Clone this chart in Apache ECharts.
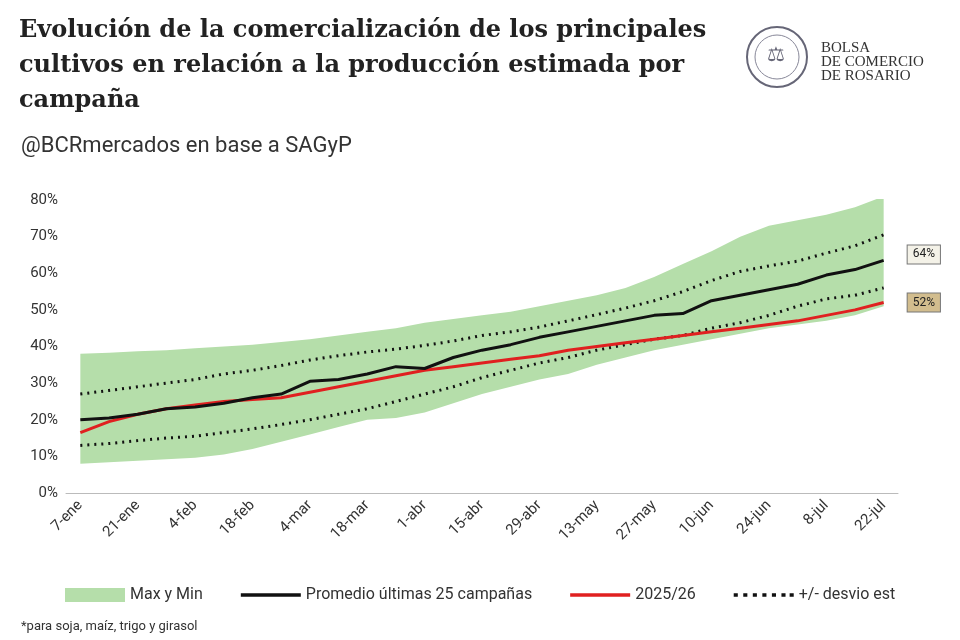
<!DOCTYPE html>
<html><head><meta charset="utf-8">
<script src="https://cdn.jsdelivr.net/npm/echarts@6/dist/echarts.min.js"></script>
<style>body{margin:0;background:#fff}#chart{width:960px;height:640px}</style>
</head><body><div id="chart"></div>
<script>
var weeks = ['7-ene','14-ene','21-ene','28-ene','4-feb','11-feb','18-feb','25-feb','4-mar','11-mar','18-mar','25-mar','1-abr','8-abr','15-abr','22-abr','29-abr','6-may','13-may','20-may','27-may','3-jun','10-jun','17-jun','24-jun','1-jul','8-jul','15-jul','22-jul'];
var bandMax = [38,38.3,38.7,39,39.5,40,40.5,41.2,42,43,44,45,46.5,47.5,48.5,49.5,51,52.5,54,56,59,62.5,66,70,73,74.5,76,78,81];
var bandMin = [8,8.4,8.8,9.2,9.6,10.5,12,14,16,18,20,20.5,22,24.5,27,29,31,32.5,35,37,39,40.5,42,43.5,45,46,47,48.5,51];
var promedio = [20,20.5,21.5,23,23.5,24.5,26,27,30.5,31,32.5,34.5,34,37,39,40.5,42.5,44,45.5,47,48.5,49,52.5,54,55.5,57,59.5,61,63.5];
var actual = [16.5,19.5,21.5,23,24,25,25.5,26,27.5,29,30.5,32,33.5,34.5,35.5,36.5,37.5,39,40,41,42,43,44,45,46,47,48.5,50,52];
var desvioSup = [27,28,29,30,31,32.5,33.5,34.8,36.3,37.5,38.5,39.3,40.3,41.5,43,44,45.3,47,48.7,50.5,52.5,55,58,60.5,62,63.3,65.5,67.5,70.5];
var desvioInf = [13,13.5,14.3,15,15.5,16.5,17.5,18.7,20,21.5,23,25,27,29,31.5,33.5,35.5,37,39,40.5,42,43,45,46.5,48.5,51,53,54,56];

var chart = echarts.init(document.getElementById('chart'));
var ff = 'Roboto, sans-serif';
chart.setOption({
  textStyle: {fontFamily: ff},
  title: [{
    text: 'Evolución de la comercialización de los principales\ncultivos en relación a la producción estimada por\ncampaña',
    left: 14, top: 8,
    textStyle: {fontFamily: 'DejaVu Serif, serif', fontSize: 24, fontWeight: 'bold', color: '#222', lineHeight: 35}
  }, {
    text: '@BCRmercados en base a SAGyP', left: 16, top: 130,
    textStyle: {fontFamily: ff, fontSize: 22, fontWeight: 'normal', color: '#333'}
  }, {
    text: 'BOLSA\nDE COMERCIO\nDE ROSARIO', left: 816, top: 36,
    textStyle: {fontFamily: 'Liberation Serif, serif', fontSize: 15, fontWeight: 'normal', color: '#333', lineHeight: 14}
  }, {
    text: '*para soja, maíz, trigo y girasol', left: 16, bottom: 2,
    textStyle: {fontFamily: ff, fontSize: 13, fontWeight: 'normal', color: '#333'}
  }],
  graphic: [
    {type: 'circle', shape: {cx: 777, cy: 57, r: 30}, style: {fill: '#fff', stroke: '#667', lineWidth: 2}},
    {type: 'circle', shape: {cx: 777, cy: 57, r: 22}, style: {fill: '#fff', stroke: '#889', lineWidth: 1}},
    {type: 'text', left: 767, top: 45, style: {text: '⚖', fontSize: 20, fill: '#667'}}
  ],
  legend: {
    bottom: 32, left: 60, itemGap: 38, itemWidth: 60, itemHeight: 14,
    textStyle: {fontSize: 16, color: '#333'},
    data: [
      {name: 'Max y Min', icon: 'rect', itemStyle: {color: '#b5deaa'}},
      {name: 'Promedio últimas 25 campañas', icon: 'path://M0,6H44V8.5H0Z', itemStyle: {color: '#111'}},
      {name: '2025/26', icon: 'path://M0,6H44V8.5H0Z', itemStyle: {color: '#e02020'}},
      {name: '+/- desvio est', icon: 'path://M0,6H3V8.5H0ZM7,6H10V8.5H7ZM14,6H17V8.5H14ZM21,6H24V8.5H21ZM28,6H31V8.5H28ZM35,6H38V8.5H35ZM41,6H44V8.5H41Z', itemStyle: {color: '#111'}}
    ]
  },
  grid: {left: 66, right: 62, top: 200, bottom: 147},
  xAxis: {
    type: 'category', data: weeks, boundaryGap: ['2%', '2%'],
    axisLine: {lineStyle: {color: '#bbb'}}, axisTick: {show: false},
    axisLabel: {interval: 1, rotate: 45, fontSize: 15, color: '#333', margin: 10}
  },
  yAxis: {
    type: 'value', min: 0, max: 80, interval: 10,
    splitLine: {show: false},
    axisLabel: {formatter: '{value}%', fontSize: 15, color: '#333'}
  },
  series: [
    {name: 'min', type: 'line', data: bandMin, stack: 'band', symbol: 'none', lineStyle: {opacity: 0}, silent: true},
    {name: 'Max y Min', type: 'line', data: bandMax.map(function (v, i) { return v - bandMin[i]; }), stack: 'band', symbol: 'none',
      lineStyle: {opacity: 0}, areaStyle: {color: '#b5deaa', opacity: 1}, itemStyle: {color: '#b5deaa'}},
    {name: '+/- desvio est', type: 'line', data: desvioSup, symbol: 'none', lineStyle: {color: '#111', type: [2, 5], width: 3}, itemStyle: {color: '#111'}},
    {name: '+/- desvio est', type: 'line', data: desvioInf, symbol: 'none', lineStyle: {color: '#111', type: [2, 5], width: 3}},
    {name: '2025/26', type: 'line', data: actual, symbol: 'none', lineStyle: {color: '#e02020', width: 3}, itemStyle: {color: '#e02020'},
      endLabel: {show: true, formatter: '52%', backgroundColor: '#d2bd8e', borderColor: '#777', borderWidth: 1, padding: [3, 5], color: '#222', fontSize: 12, distance: 24}},
    {name: 'Promedio últimas 25 campañas', type: 'line', data: promedio, symbol: 'none', lineStyle: {color: '#111', width: 3}, itemStyle: {color: '#111'},
      endLabel: {show: true, formatter: '64%', backgroundColor: '#f4f2e8', borderColor: '#777', borderWidth: 1, padding: [3, 5], color: '#222', fontSize: 12, distance: 24, offset: [0, -6]}}
  ]
});
</script></body></html>
